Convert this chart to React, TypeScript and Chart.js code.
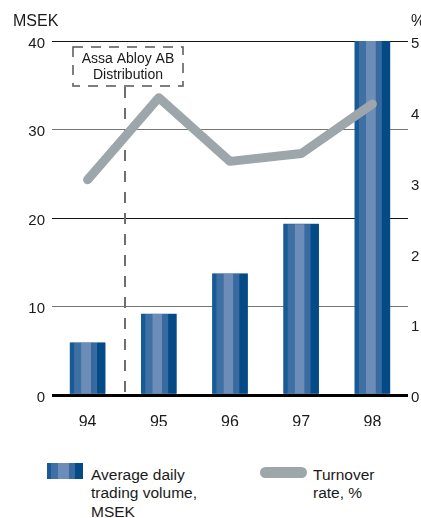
import React, { useEffect, useRef } from "react";
import { Chart, registerables } from "chart.js";

Chart.register(...registerables);

// Years on the category axis
const years = ["94", "95", "96", "97", "98"];
// Average daily trading volume, MSEK (left axis)
const volumeMSEK = [5.9, 9.15, 13.7, 19.3, 40];
// Turnover rate, % (right axis)
const turnoverPct = [3.04, 4.2, 3.3, 3.41, 4.11];
// Axis ranges and steps
const leftTicks = { min: 0, max: 40, step: 10 };
const rightTicks = { min: 0, max: 5, step: 1 };
// Event marker sits between the first two years
const distributionAt = 0.525;
const distributionLabel = ["Assa Abloy AB", "Distribution"];

const FONT = "'Liberation Sans', Arial, Helvetica, sans-serif";
const TEXT = "#1a1a1a";
const LINE_GREY = "#9ca6ab";

// Vertical stripes across each bar: [start, end] as fractions of bar width
const STRIPES: [number, number, string][] = [
  [0, 4 / 35, "#175a96"],
  [4 / 35, 11 / 35, "#3f70a4"],
  [11 / 35, 21 / 35, "#6d8db9"],
  [21 / 35, 27 / 35, "#386aa0"],
  [27 / 35, 1, "#034a86"],
];

const stripeGradientCss = `linear-gradient(to right, ${STRIPES.map(
  ([a, b, c]) => `${c} ${(a * 100).toFixed(1)}%, ${c} ${(b * 100).toFixed(1)}%`
).join(", ")})`;

const stripedBars = {
  id: "stripedBars",
  afterDatasetDraw(chart: any, args: any) {
    if (args.index !== 0) return;
    const { ctx, chartArea } = chart;
    const meta = chart.getDatasetMeta(0);
    ctx.save();
    ctx.beginPath();
    ctx.rect(chartArea.left, chartArea.top, chartArea.right - chartArea.left, chartArea.bottom - chartArea.top);
    ctx.clip();
    meta.data.forEach((bar: any) => {
      const { x, y, base, width } = bar.getProps(["x", "y", "base", "width"], true);
      const left = x - width / 2;
      const top = Math.min(y, base);
      const h = Math.abs(base - y);
      STRIPES.forEach(([a, b, c]) => {
        ctx.fillStyle = c;
        ctx.fillRect(left + a * width, top, (b - a) * width, h);
      });
    });
    ctx.restore();
  },
};

const annotations = {
  id: "annotations",
  beforeDatasetsDraw(chart: any) {
    const { ctx, chartArea, scales } = chart;
    const xLine = Math.round(scales.x.getPixelForValue(distributionAt));
    const boxTop = chartArea.top + 6;
    const boxBottom = chartArea.top + 45;
    const boxLeft = xLine - 52;
    const boxRight = xLine + 58;
    ctx.save();
    ctx.strokeStyle = "#555";
    ctx.lineWidth = 1.5;
    ctx.setLineDash([10, 8]);
    ctx.strokeRect(boxLeft, boxTop, boxRight - boxLeft, boxBottom - boxTop);
    ctx.strokeStyle = "#6e6e6e";
    ctx.lineWidth = 2;
    ctx.setLineDash([11, 10]);
    ctx.beginPath();
    ctx.moveTo(xLine, boxBottom + 1);
    ctx.lineTo(xLine, chartArea.bottom - 1);
    ctx.stroke();
    ctx.setLineDash([]);
    ctx.fillStyle = TEXT;
    ctx.font = `14px ${FONT}`;
    ctx.textAlign = "center";
    ctx.textBaseline = "middle";
    const cx = (boxLeft + boxRight) / 2;
    ctx.fillText(distributionLabel[0], cx, boxTop + 12);
    ctx.fillText(distributionLabel[1], cx, boxTop + 28);
    ctx.restore();
  },
  afterDraw(chart: any) {
    const { ctx, chartArea } = chart;
    ctx.save();
    ctx.fillStyle = TEXT;
    ctx.font = `16px ${FONT}`;
    ctx.textBaseline = "middle";
    ctx.textAlign = "left";
    ctx.fillText("MSEK", 13, chartArea.top - 19);
    ctx.fillText("%", chartArea.right + 3, chartArea.top - 19);
    ctx.restore();
  },
};

export default function App() {
  const canvasRef = useRef<HTMLCanvasElement | null>(null);

  useEffect(() => {
    const canvas = canvasRef.current;
    if (!canvas) return;
    const chart = new Chart(canvas, {
      type: "bar",
      data: {
        labels: years,
        datasets: [
          {
            type: "bar",
            label: "Average daily trading volume, MSEK",
            data: volumeMSEK,
            backgroundColor: STRIPES[0][2],
            borderWidth: 0,
            barThickness: 35,
            yAxisID: "y",
            order: 2,
          },
          {
            type: "line",
            label: "Turnover rate, %",
            data: turnoverPct,
            borderColor: LINE_GREY,
            borderWidth: 9,
            borderCapStyle: "round",
            borderJoinStyle: "round",
            pointRadius: 0,
            tension: 0,
            fill: false,
            yAxisID: "y1",
            order: 1,
          },
        ],
      },
      options: {
        responsive: false,
        animation: false,
        devicePixelRatio: 1,
        layout: { padding: { top: 41, left: 0, right: 0, bottom: 14 } },
        plugins: {
          legend: { display: false },
          tooltip: { enabled: false },
        },
        scales: {
          x: {
            offset: true,
            grid: { display: false, drawTicks: false },
            border: { display: false },
            ticks: { color: TEXT, font: { family: FONT, size: 16 }, padding: 18 },
            afterFit: (s: any) => {
              s.height = 31;
            },
          },
          y: {
            position: "left",
            min: leftTicks.min,
            max: leftTicks.max,
            grid: {
              drawTicks: false,
              color: (c: any) => {
                const v = c.tick?.value;
                if (v === 0) return "#000";
                return v === 30 || v === 10 ? "#767676" : "#141414";
              },
              lineWidth: (c: any) => (c.tick?.value === 0 ? 3 : 1),
            },
            border: { display: false },
            ticks: {
              stepSize: leftTicks.step,
              color: TEXT,
              font: { family: FONT, size: 15 },
              padding: 7,
              labelOffset: 2.5,
            },
            afterFit: (s: any) => {
              s.width = 52;
            },
          },
          y1: {
            position: "right",
            min: rightTicks.min,
            max: rightTicks.max,
            grid: { display: false, drawTicks: false },
            border: { display: false },
            ticks: {
              stepSize: rightTicks.step,
              color: TEXT,
              font: { family: FONT, size: 15 },
              padding: 3,
              labelOffset: 3,
            },
            afterFit: (s: any) => {
              s.width = 32;
            },
          },
        },
      },
      plugins: [stripedBars, annotations],
    });
    return () => chart.destroy();
  }, []);

  const legendText: React.CSSProperties = {
    position: "absolute",
    top: 466,
    fontFamily: FONT,
    fontSize: 15.5,
    lineHeight: "18.3px",
    color: TEXT,
    whiteSpace: "nowrap",
  };

  return (
    <div
      style={{
        position: "absolute",
        left: 0,
        top: 0,
        width: 421,
        height: 518,
        overflow: "hidden",
        background: "#fff",
      }}
    >
      <canvas ref={canvasRef} width={440} height={440} style={{ display: "block", width: 440, height: 440 }} />
      <div style={{ position: "absolute", left: 47, top: 463, width: 36, height: 16, background: stripeGradientCss }} />
      <div style={{ ...legendText, left: 91 }}>
        Average daily
        <br />
        trading volume,
        <br />
        MSEK
      </div>
      <div
        style={{ position: "absolute", left: 260, top: 467, width: 47, height: 11, borderRadius: 5.5, background: LINE_GREY }}
      />
      <div style={{ ...legendText, left: 313 }}>
        Turnover
        <br />
        rate, %
      </div>
    </div>
  );
}
